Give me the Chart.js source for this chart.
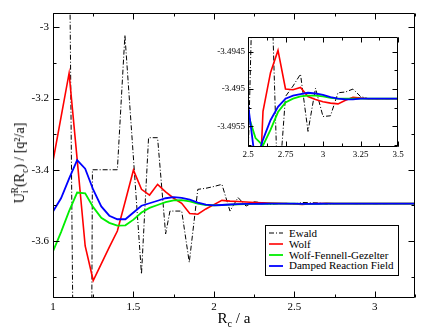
<!DOCTYPE html>
<html>
<head>
<meta charset="utf-8">
<script src="https://cdn.jsdelivr.net/npm/chart.js@4.4.0/dist/chart.umd.min.js"></script>
<style>
  body { margin: 0; background: #fff; }
  #wrap { position: relative; width: 430px; height: 332px; font-family: "Liberation Serif", "Times New Roman", serif; color: #000; overflow: hidden; }
  #main { position: absolute; left: 0; top: 0; }
  #inset { position: absolute; left: 200px; top: 28px; }
  #legend { position: absolute; left: 265px; top: 225px; width: 134px; height: 51px; box-sizing: border-box; border: 1px solid #000; background: #fff; padding-top: 2px; font-size: 11px; }
  .row { height: 10.8px; line-height: 10.8px; display: flex; align-items: center; white-space: nowrap; }
  .row svg { margin: 0 6px 0 3px; flex: none; }
  #ytitle { position: absolute; left: 20px; top: 163px; transform: translate(-50%, -50%) rotate(-90deg); font-size: 14px; white-space: nowrap; }
  #xtitle { position: absolute; left: 234px; top: 318px; transform: translate(-50%, -50%); font-size: 15px; white-space: nowrap; }
  sub, sup { font-size: 68%; line-height: 0; }
</style>
</head>
<body>
<div id="wrap">
  <canvas id="main" width="430" height="332"></canvas>
  <canvas id="inset" width="210" height="138"></canvas>
  <div id="legend"></div>
  <div id="ytitle">U<sub>i</sub><sup style="margin-left:-3px">R</sup>(R<sub>c</sub>) / [q²/a]</div>
  <div id="xtitle">R<sub>c</sub> / a</div>
</div>
<script>
// cutoff radius grid used by Wolf / WFG / DRF
const rc = [1.00, 1.05, 1.10, 1.15, 1.20, 1.25, 1.30, 1.35, 1.40, 1.45,
            1.50, 1.55, 1.60, 1.65, 1.70, 1.75, 1.80, 1.85, 1.90, 1.95,
            2.00, 2.05, 2.10, 2.15, 2.20, 2.25, 2.30, 2.35, 2.40, 2.45,
            2.50, 2.55, 2.60, 2.65, 2.70, 2.75, 2.80, 2.85, 2.90, 2.95,
            3.00, 3.05, 3.10, 3.15, 3.20, 3.25, 3.30, 3.35, 3.40, 3.45, 3.50];

const wolf = [-3.376, -3.252, -3.129, -3.370, -3.614, -3.711, -3.664, -3.617, -3.572, -3.487,
              -3.401, -3.455, -3.471, -3.441, -3.462, -3.480, -3.494, -3.523, -3.525, -3.510,
              -3.498, -3.486, -3.488, -3.489, -3.4905, -3.492, -3.493, -3.4938, -3.4945, -3.495,
              -3.4962, -3.4976, -3.4953, -3.49478, -3.49448, -3.495, -3.49501, -3.49498, -3.4951, -3.49514,
              -3.49517, -3.49519, -3.4952, -3.49515, -3.49511, -3.49512, -3.49513, -3.49513, -3.49513, -3.49513, -3.49513];

const wfg = [-3.629, -3.575, -3.516, -3.464, -3.466, -3.505, -3.535, -3.549, -3.557, -3.556,
             -3.540, -3.520, -3.507, -3.499, -3.491, -3.486, -3.485, -3.489, -3.495, -3.499,
             -3.500, -3.499, -3.4978, -3.4968, -3.4962, -3.4958, -3.4956, -3.4954, -3.4953, -3.4953,
             -3.49534, -3.49566, -3.49576, -3.49555, -3.49531, -3.49518, -3.49513, -3.4951, -3.49509, -3.49509,
             -3.4951, -3.49512, -3.49513, -3.49513, -3.49513, -3.49513, -3.49513, -3.49513, -3.49513, -3.49513, -3.49513];

const drf = [-3.517, -3.480, -3.425, -3.373, -3.397, -3.456, -3.503, -3.529, -3.539, -3.539,
             -3.520, -3.501, -3.494, -3.487, -3.480, -3.477, -3.479, -3.484, -3.492, -3.498,
             -3.500, -3.499, -3.4975, -3.4965, -3.496, -3.4957, -3.4955, -3.4953, -3.4952, -3.4951,
             -3.4952, -3.496, -3.49568, -3.49542, -3.49524, -3.49513, -3.49509, -3.49507, -3.49505, -3.49506,
             -3.49508, -3.49511, -3.49513, -3.49514, -3.49514, -3.49513, -3.49513, -3.49513, -3.49513, -3.49513, -3.49513];

// Ewald is sampled at its own radii
const ewaldX = [1.00, 1.105, 1.125, 1.24, 1.245, 1.40, 1.447, 1.55, 1.594, 1.65,
                1.70, 1.727, 1.80, 1.847, 1.90, 1.95, 2.00, 2.05, 2.10, 2.15,
                2.20, 2.25, 2.30, 2.35, 2.40, 2.45, 2.50, 2.55, 2.60, 2.65,
                2.70, 2.75, 2.80, 2.85, 2.90, 2.95, 3.00, 3.05, 3.10, 3.15,
                3.20, 3.25, 3.30, 3.35, 3.40, 3.45, 3.50];
const ewaldY = [-2.90, -2.90, -3.90, -3.90, -3.400, -3.400, -3.022, -3.693, -3.310, -3.310,
                -3.580, -3.516, -3.516, -3.660, -3.455, -3.452, -3.447, -3.441, -3.516, -3.478,
                -3.502, -3.490, -3.4925, -3.497, -3.4953, -3.4945, -3.496, -3.492, -3.4925, -3.49316,
                -3.4965, -3.4951, -3.49496, -3.4948, -3.49557, -3.49499, -3.49537, -3.49536, -3.49505, -3.49504,
                -3.495, -3.4951, -3.49513, -3.49513, -3.49513, -3.49513, -3.49513];

const mainXTicks = [1, 1.5, 2, 2.5, 3];
const mainYTicks = [-3.6, -3.4, -3.2, -3];
const insetXTicks = [2.5, 2.75, 3, 3.25, 3.5];
const insetYTicks = [-3.4955, -3.495, -3.4945];

const pts = (xs, ys) => xs.map((x, i) => ({ x, y: ys[i] }));

function makeDatasets() {
  return [
    { label: "Ewald", data: pts(ewaldX, ewaldY), borderColor: "#000", borderWidth: 1, borderDash: [5, 2, 1, 2], order: 4 },
    { label: "Wolf", data: pts(rc, wolf), borderColor: "#ff0000", borderWidth: 1.6, order: 3 },
    { label: "Wolf-Fennell-Gezelter", data: pts(rc, wfg), borderColor: "#00ee00", borderWidth: 1.8, order: 2 },
    { label: "Damped Reaction Field", data: pts(rc, drf), borderColor: "#0000ff", borderWidth: 1.8, order: 1 }
  ].map((d) => Object.assign(d, { pointRadius: 0, tension: 0, fill: false }));
}

// frame with inward major / minor ticks on all four sides
const frameTicks = {
  id: "frameTicks",
  afterDatasetsDraw(chart, args, opts) {
    const { ctx, chartArea: a, scales: { x, y } } = chart;
    const L = Math.round(a.left) + 0.5, R = Math.round(a.right) - 0.5;
    const T = Math.round(a.top) + 0.5, B = Math.round(a.bottom) - 0.5;
    ctx.save();
    ctx.strokeStyle = "#000";
    ctx.lineWidth = 1;
    ctx.beginPath();
    const steps = (min, max, step) => {
      const out = [];
      for (let k = Math.ceil(min / step - 1e-6); k * step <= max + 1e-9; k++) out.push(k * step);
      return out;
    };
    const xt = (v, len) => { const p = Math.round(x.getPixelForValue(v)) + 0.5; ctx.moveTo(p, B); ctx.lineTo(p, B - len); ctx.moveTo(p, T); ctx.lineTo(p, T + len); };
    const yt = (v, len) => { const p = Math.round(y.getPixelForValue(v)) + 0.5; ctx.moveTo(L, p); ctx.lineTo(L + len, p); ctx.moveTo(R, p); ctx.lineTo(R - len, p); };
    steps(x.min, x.max, opts.xMinor).forEach((v) => xt(v, opts.minor));
    steps(y.min, y.max, opts.yMinor).forEach((v) => yt(v, opts.minor));
    x.ticks.forEach((t) => xt(t.value, opts.major));
    y.ticks.forEach((t) => yt(t.value, opts.major));
    ctx.rect(L, T, R - L, B - T);
    ctx.stroke();
    ctx.restore();
  }
};

function axis(min, max, ticks, font, pad, fit) {
  return {
    type: "linear", min, max,
    grid: { display: false, drawTicks: false },
    border: { display: false },
    afterBuildTicks: (s) => { s.ticks = ticks.map((v) => ({ value: v })); },
    afterFit: fit,
    ticks: { autoSkip: false, maxRotation: 0, padding: pad, color: "#000", font: { family: "'Liberation Serif', serif", size: font }, callback: (v) => String(v) }
  };
}

function build(id, cfg) {
  return new Chart(document.getElementById(id), {
    type: "line",
    data: { datasets: makeDatasets() },
    plugins: [frameTicks],
    options: {
      responsive: false, animation: false, devicePixelRatio: 1,
      layout: { padding: cfg.padding },
      plugins: { legend: { display: false }, tooltip: { enabled: false }, frameTicks: cfg.frame },
      scales: { x: cfg.x, y: cfg.y }
    }
  });
}

build("main", {
  padding: { left: 0, top: 13, right: 15, bottom: 0 },
  frame: { xMinor: 0.25, yMinor: 0.1, major: 6, minor: 3 },
  x: axis(1, 3.25, mainXTicks, 11, 3, (s) => { s.height = 34; }),
  y: axis(-3.76, -2.96, mainYTicks, 11, 4, (s) => { s.width = 53; })
});

build("inset", {
  padding: { left: 0, top: 9, right: 12, bottom: 0 },
  frame: { xMinor: 0.125, yMinor: 0.00025, major: 5, minor: 3 },
  x: axis(2.5, 3.5, insetXTicks, 9, 2, (s) => { s.height = 19; }),
  y: axis(-3.49578, -3.4943, insetYTicks, 9, 3, (s) => { s.width = 48; })
});

// legend from the dataset definitions
const legend = document.getElementById("legend");
makeDatasets().forEach((d) => {
  const row = document.createElement("div");
  row.className = "row";
  const dash = d.borderDash ? ` stroke-dasharray="${d.borderDash.join(" ")}"` : "";
  row.innerHTML = `<svg width="14" height="4"><line x1="0" y1="2" x2="14" y2="2" stroke="${d.borderColor}" stroke-width="${d.borderWidth}"${dash}/></svg><span>${d.label}</span>`;
  legend.appendChild(row);
});
</script>
</body>
</html>
